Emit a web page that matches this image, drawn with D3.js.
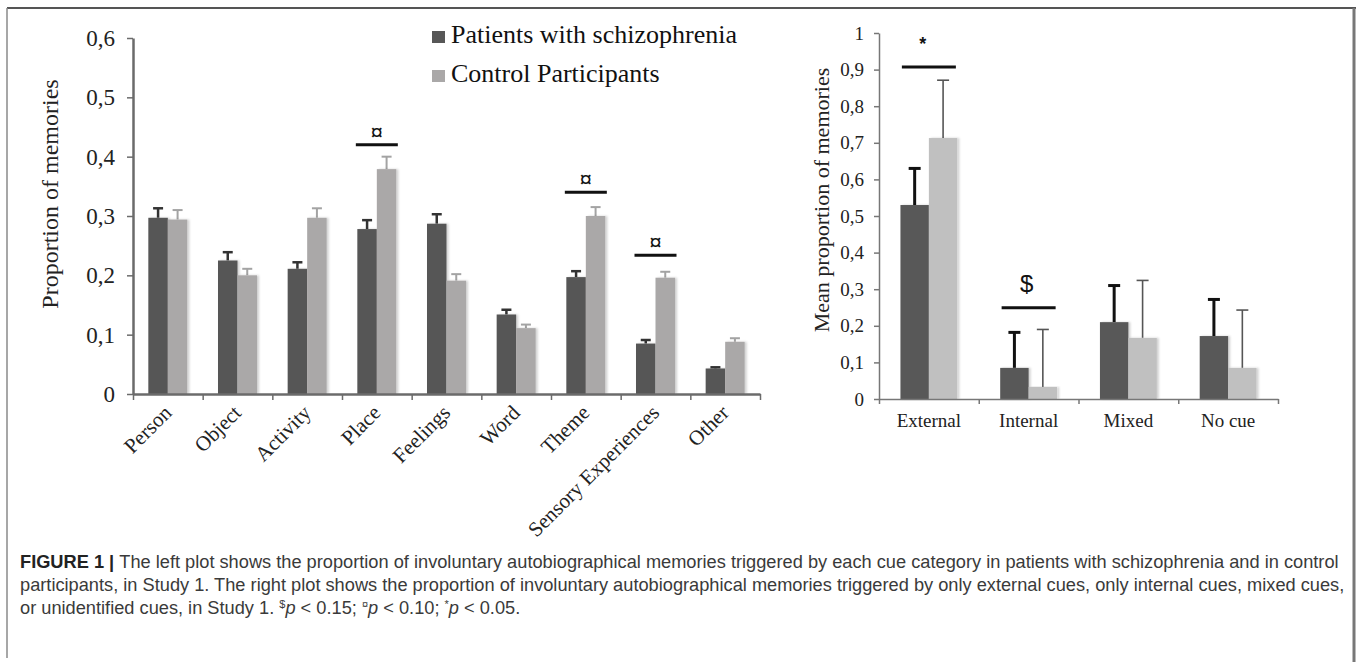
<!DOCTYPE html>
<html>
<head>
<meta charset="utf-8">
<script src="https://cdn.jsdelivr.net/npm/d3@7"></script>
<style>
  body { margin: 0; background: #fff; }
  svg { display: block; }
</style>
</head>
<body>
<svg id="fig" width="1358" height="662"></svg>
<script>
// left plot: cue categories
const categories = ["Person", "Object", "Activity", "Place", "Feelings", "Word", "Theme", "Sensory Experiences", "Other"]
const patientMeans = [0.297, 0.225, 0.211, 0.278, 0.287, 0.134, 0.197, 0.085, 0.043]
const patientErr = [0.016, 0.014, 0.011, 0.015, 0.016, 0.008, 0.010, 0.006, 0.002]
const controlMeans = [0.294, 0.200, 0.297, 0.379, 0.191, 0.111, 0.300, 0.196, 0.088]
const controlErr = [0.016, 0.011, 0.016, 0.021, 0.011, 0.006, 0.015, 0.010, 0.006]
const leftTicks = [0, 0.1, 0.2, 0.3, 0.4, 0.5, 0.6]
const leftSig = [
    { cat: "Place", level: 0.42, mark: "\u00a4" },
    { cat: "Theme", level: 0.34, mark: "\u00a4" },
    { cat: "Sensory Experiences", level: 0.234, mark: "\u00a4" },
]

// right plot: cue types
const cueTypes = ["External", "Internal", "Mixed", "No cue"]
const cuePatients = [0.530, 0.085, 0.210, 0.172]
const cuePatientsErr = [0.100, 0.097, 0.100, 0.100]
const cueControls = [0.713, 0.033, 0.167, 0.085]
const cueControlsErr = [0.158, 0.157, 0.157, 0.158]
const rightTicks = [0, 0.1, 0.2, 0.3, 0.4, 0.5, 0.6, 0.7, 0.8, 0.9, 1]
const rightSig = [
    { cat: "External", level: 0.907, mark: "*" },
    { cat: "Internal", level: 0.249, mark: "$" },
]

const legendLabels = ["Patients with schizophrenia", "Control Participants"]

const serif = "'Liberation Serif', 'Times New Roman', serif"
const sans = "'Liberation Sans', Arial, sans-serif"
const commaFmt = d => d === 0 ? "0" : (d === 1 ? "1" : d3.format(".1f")(d).replace(".", ","))

const svg = d3.select("#fig")

// frame
svg.append("line").attr("x1", 7).attr("x2", 1356).attr("y1", 8).attr("y2", 8)
    .attr("stroke", "#555").attr("stroke-width", 2)
svg.append("line").attr("x1", 7).attr("x2", 7).attr("y1", 8).attr("y2", 658)
    .attr("stroke", "#8a8a8a").attr("stroke-width", 1.5)
svg.append("line").attr("x1", 1354).attr("x2", 1354).attr("y1", 8).attr("y2", 662)
    .attr("stroke", "#777").attr("stroke-width", 3)

// shadow filter for bars
const defs = svg.append("defs")
const f = defs.append("filter").attr("id", "shadow").attr("x", "-20%").attr("y", "-5%").attr("width", "150%").attr("height", "110%")
f.append("feDropShadow").attr("dx", 2).attr("dy", 0).attr("stdDeviation", 1.2)
    .attr("flood-color", "#000").attr("flood-opacity", 0.18)

// ---------- LEFT CHART ----------
const L = { x0: 133, x1: 760, y0: 394, y1: 38 }
const yL = d3.scaleLinear().domain([0, 0.6]).range([L.y0, L.y1])
const xL = d3.scaleBand().domain(categories).range([L.x0, L.x1])
const xLi = d3.scaleLinear().domain([0, categories.length]).range([L.x0, L.x1])
const barW = xL.bandwidth() * 0.28

const left = svg.append("g")

const yAxisL = left.append("g")
    .attr("transform", `translate(${L.x0},0)`)
    .call(d3.axisLeft(yL).tickValues(leftTicks).tickFormat(commaFmt).tickSizeInner(6).tickSizeOuter(0).tickPadding(12))
yAxisL.select(".domain").attr("stroke", "#6b6b6b").attr("stroke-width", 2.5)
yAxisL.selectAll(".tick line").attr("stroke", "#6b6b6b").attr("stroke-width", 1.5)
yAxisL.selectAll(".tick text").attr("font-family", serif).attr("font-size", 23).attr("fill", "#222")

const leftGroups = left.selectAll(".grp").data(categories).join("g")
    .attr("class", "grp")
    .attr("transform", d => `translate(${xL(d) + xL.bandwidth() / 2},0)`)

const leftSeries = [
    { means: patientMeans, err: patientErr, fill: "#575757", errColor: "#333", errW: 2.5, dx: -barW },
    { means: controlMeans, err: controlErr, fill: "#aaa8a8", errColor: "#a3a3a3", errW: 2, dx: 0 },
]
leftSeries.forEach(s => {
    leftGroups.append("line")
        .attr("x1", s.dx + barW / 2).attr("x2", s.dx + barW / 2)
        .attr("y1", (d, i) => yL(s.means[i])).attr("y2", (d, i) => yL(s.means[i] + s.err[i]))
        .attr("stroke", s.errColor).attr("stroke-width", s.errW)
    leftGroups.append("line")
        .attr("x1", s.dx + barW / 2 - 5).attr("x2", s.dx + barW / 2 + 5)
        .attr("y1", (d, i) => yL(s.means[i] + s.err[i])).attr("y2", (d, i) => yL(s.means[i] + s.err[i]))
        .attr("stroke", s.errColor).attr("stroke-width", s.errW)
    leftGroups.append("rect")
        .attr("x", s.dx).attr("width", barW)
        .attr("y", (d, i) => yL(s.means[i]))
        .attr("height", (d, i) => L.y0 - yL(s.means[i]))
        .attr("fill", s.fill)
        .attr("filter", "url(#shadow)")
})

const xAxisL = left.append("g")
    .attr("transform", `translate(0,${L.y0})`)
    .call(d3.axisBottom(xLi).tickValues(d3.range(categories.length + 1)).tickFormat("").tickSizeInner(6).tickSizeOuter(0))
xAxisL.select(".domain").attr("stroke", "#6b6b6b").attr("stroke-width", 2.5)
xAxisL.selectAll(".tick line").attr("stroke", "#6b6b6b").attr("stroke-width", 1.5)

left.selectAll(".xlab").data(categories).join("text")
    .attr("class", "xlab")
    .attr("transform", d => `translate(${xL(d) + xL.bandwidth() / 2 + 5},${L.y0 + 20}) rotate(-45)`)
    .attr("text-anchor", "end")
    .attr("font-family", serif).attr("font-size", 21).attr("fill", "#222")
    .text(d => d)

left.append("text")
    .attr("transform", `translate(58,194) rotate(-90)`)
    .attr("text-anchor", "middle")
    .attr("font-family", serif).attr("font-size", 24).attr("fill", "#222")
    .text("Proportion of memories")

leftSig.forEach(s => {
    const cx = xL(s.cat) + xL.bandwidth() / 2
    left.append("line")
        .attr("x1", cx - 21).attr("x2", cx + 21)
        .attr("y1", yL(s.level)).attr("y2", yL(s.level))
        .attr("stroke", "#111").attr("stroke-width", 3)
    left.append("text")
        .attr("x", cx).attr("y", yL(s.level) - 5)
        .attr("text-anchor", "middle")
        .attr("font-family", serif).attr("font-weight", "bold").attr("font-size", 24).attr("fill", "#111")
        .text(s.mark)
})

// legend
const legend = svg.append("g").attr("transform", "translate(432,0)")
const legendFill = ["#575757", "#aaa8a8"]
legendLabels.forEach((lab, i) => {
    legend.append("rect").attr("x", 0).attr("y", 31 + i * 39).attr("width", 13).attr("height", 12)
        .attr("fill", legendFill[i])
    legend.append("text").attr("x", 19).attr("y", 43 + i * 39)
        .attr("font-family", serif).attr("font-size", 26).attr("fill", "#111")
        .text(lab)
})

// ---------- RIGHT CHART ----------
const R = { x0: 879, x1: 1278, y0: 399, y1: 33 }
const yR = d3.scaleLinear().domain([0, 1]).range([R.y0, R.y1])
const xR = d3.scaleBand().domain(cueTypes).range([R.x0, R.x1])
const xRi = d3.scaleLinear().domain([0, cueTypes.length]).range([R.x0, R.x1])
const barWR = xR.bandwidth() * 0.285

const right = svg.append("g")

const yAxisR = right.append("g")
    .attr("transform", `translate(${R.x0},0)`)
    .call(d3.axisLeft(yR).tickValues(rightTicks).tickFormat(commaFmt).tickSizeInner(5).tickSizeOuter(0).tickPadding(10))
yAxisR.select(".domain").attr("stroke", "#777").attr("stroke-width", 1.5)
yAxisR.selectAll(".tick line").attr("stroke", "#777").attr("stroke-width", 1.5)
yAxisR.selectAll(".tick text").attr("font-family", serif).attr("font-size", 19).attr("fill", "#222")

const rightGroups = right.selectAll(".rgrp").data(cueTypes).join("g")
    .attr("class", "rgrp")
    .attr("transform", d => `translate(${xR(d) + xR.bandwidth() / 2},0)`)

const rightSeries = [
    { means: cuePatients, err: cuePatientsErr, fill: "#595959", errColor: "#111", errW: 3, dx: -barWR },
    { means: cueControls, err: cueControlsErr, fill: "#c0c0c0", errColor: "#555", errW: 1.6, dx: 0 },
]
rightSeries.forEach(s => {
    rightGroups.append("line")
        .attr("x1", s.dx + barWR / 2).attr("x2", s.dx + barWR / 2)
        .attr("y1", (d, i) => yR(s.means[i])).attr("y2", (d, i) => yR(s.means[i] + s.err[i]))
        .attr("stroke", s.errColor).attr("stroke-width", s.errW)
    rightGroups.append("line")
        .attr("x1", s.dx + barWR / 2 - 6).attr("x2", s.dx + barWR / 2 + 6)
        .attr("y1", (d, i) => yR(s.means[i] + s.err[i])).attr("y2", (d, i) => yR(s.means[i] + s.err[i]))
        .attr("stroke", s.errColor).attr("stroke-width", s.errW)
    rightGroups.append("rect")
        .attr("x", s.dx).attr("width", barWR)
        .attr("y", (d, i) => yR(s.means[i]))
        .attr("height", (d, i) => R.y0 - yR(s.means[i]))
        .attr("fill", s.fill)
        .attr("filter", "url(#shadow)")
})

const xAxisR = right.append("g")
    .attr("transform", `translate(0,${R.y0})`)
    .call(d3.axisBottom(xRi).tickValues(d3.range(cueTypes.length + 1)).tickFormat("").tickSizeInner(5).tickSizeOuter(0))
xAxisR.select(".domain").attr("stroke", "#777").attr("stroke-width", 1.5)
xAxisR.selectAll(".tick line").attr("stroke", "#777").attr("stroke-width", 1.5)

right.selectAll(".rlab").data(cueTypes).join("text")
    .attr("class", "rlab")
    .attr("x", d => xR(d) + xR.bandwidth() / 2)
    .attr("y", R.y0 + 28)
    .attr("text-anchor", "middle")
    .attr("font-family", serif).attr("font-size", 19).attr("fill", "#222")
    .text(d => d)

right.append("text")
    .attr("transform", `translate(829,200) rotate(-90)`)
    .attr("text-anchor", "middle")
    .attr("font-family", serif).attr("font-size", 22).attr("fill", "#222")
    .text("Mean proportion of memories")

rightSig.forEach(s => {
    const cx = xR(s.cat) + xR.bandwidth() / 2
    right.append("line")
        .attr("x1", cx - 27).attr("x2", cx + 27)
        .attr("y1", yR(s.level)).attr("y2", yR(s.level))
        .attr("stroke", "#111").attr("stroke-width", 3)
    right.append("text")
        .attr("x", s.mark === "*" ? cx - 6 : cx - 2)
        .attr("y", s.mark === "*" ? yR(s.level) - 17 : yR(s.level) - 16)
        .attr("text-anchor", "middle")
        .attr("font-family", sans).attr("font-weight", s.mark === "*" ? "bold" : "normal")
        .attr("font-size", s.mark === "*" ? 18 : 24).attr("fill", "#111")
        .text(s.mark)
})

// ---------- CAPTION ----------
const cap = svg.append("g").attr("font-family", sans).attr("fill", "#3a3a3a").attr("font-size", 16)
const l1 = cap.append("text").attr("x", 20).attr("y", 568)
l1.append("tspan").attr("font-weight", "bold").attr("fill", "#222").text("FIGURE 1 | ")
l1.append("tspan").text("The left plot shows the proportion of involuntary autobiographical memories triggered by each cue category in patients with schizophrenia and in control")
const l2 = cap.append("text").attr("x", 20).attr("y", 591)
    .text("participants, in Study 1. The right plot shows the proportion of involuntary autobiographical memories triggered by only external cues, only internal cues, mixed cues,")
const l3 = cap.append("text").attr("x", 20).attr("y", 614)
l3.append("tspan").text("or unidentified cues, in Study 1. ")
const notes = [["$", "p < 0.15; "], ["\u00a4", "p < 0.10; "], ["*", "p < 0.05."]]
notes.forEach(n => {
    l3.append("tspan").attr("font-size", 11).attr("dy", -6).text(n[0])
    l3.append("tspan").attr("font-style", "italic").attr("dy", 6).text(n[1].slice(0, 1))
    l3.append("tspan").text(n[1].slice(1))
})
// fit the first caption line to the figure width
const w1 = l1.node().getComputedTextLength()
cap.attr("font-size", 16 * 1320 / w1)
</script>
</body>
</html>
